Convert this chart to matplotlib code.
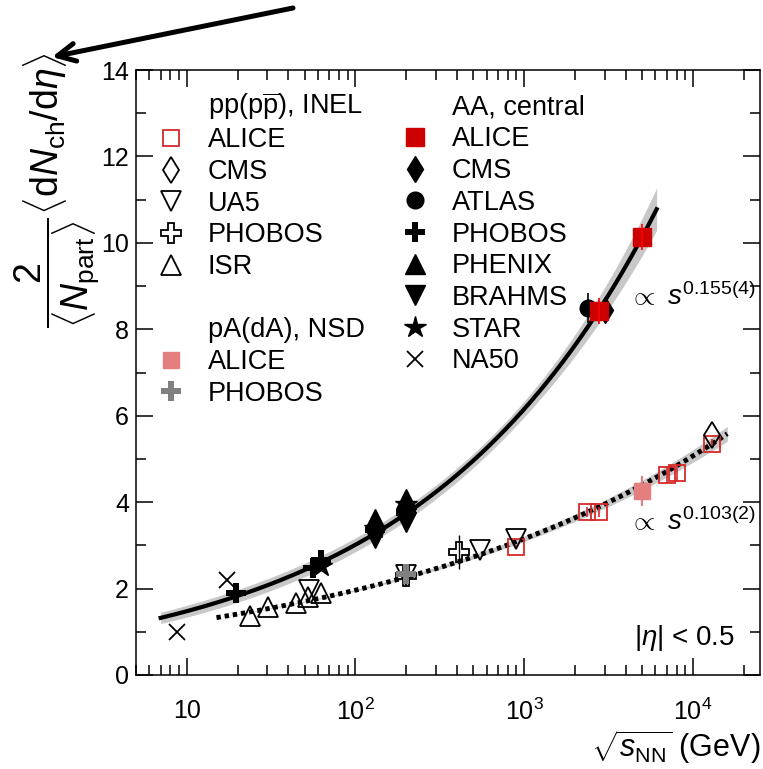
import numpy as np
import matplotlib
matplotlib.use('Agg')
import matplotlib.pyplot as plt
from matplotlib.lines import Line2D
from matplotlib.ticker import FixedLocator, FixedFormatter, LogLocator, MultipleLocator, NullFormatter

plt.rcParams['font.family'] = ['Liberation Sans', 'DejaVu Sans']
plt.rcParams['mathtext.fontset'] = 'custom'
plt.rcParams['mathtext.rm'] = 'Liberation Sans'
plt.rcParams['mathtext.it'] = 'Liberation Sans:italic'
plt.rcParams['mathtext.bf'] = 'Liberation Sans:bold'

# sqrt(s_NN) in GeV  vs  2/<Npart> <dNch/deta>
# pp(ppbar), INEL
alice_pp_x = [900, 2360, 2760, 7000, 8000, 13000]
alice_pp_y = [2.96, 3.77, 3.77, 4.63, 4.68, 5.35]
alice_pp_err = [0.05, 0.12, 0.12, 0.18, 0.18, 0.1]
cms_pp_x = [13000]
cms_pp_y = [5.56]
ua5_x = [53, 200, 546, 900]
ua5_y = [1.96, 2.31, 2.89, 3.15]
phobos_pp_x = [200, 410]
phobos_pp_y = [2.3, 2.85]
phobos_pp_err = [0.12, 0.4]
isr_x = [23.6, 30.4, 44.5, 52.6, 62.7]
isr_y = [1.37, 1.57, 1.67, 1.81, 1.90]

# pA(dA), NSD
alice_pa_x = [5020]
alice_pa_y = [4.26]
alice_pa_err = [0.35]
phobos_pa_x = [200]
phobos_pa_y = [2.33]
phobos_pa_err = [0.2]

# AA, central
alice_aa_x = [2760, 5020]
alice_aa_y = [8.43, 10.14]
alice_aa_err = [0.3, 0.3]
cms_aa_x = [3000]
cms_aa_y = [8.45]
atlas_x = [2400]
atlas_y = [8.5]
atlas_err = [0.35]
phobos_aa_x = [19.6, 56, 62.4, 130, 200]
phobos_aa_y = [1.9, 2.47, 2.65, 3.35, 3.75]
phenix_x = [130, 200]
phenix_y = [3.62, 4.08]
brahms_x = [130, 200]
brahms_y = [3.18, 3.55]
star_x = [62.4, 130, 200]
star_y = [2.52, 3.4, 3.95]
na50_x = [8.77, 17.3]
na50_y = [1.0, 2.2]

# power-law fits  ~ s^b  (b from the labels)
aa_fit_norm, aa_fit_exp, aa_fit_range = 0.723, 0.155, (7, 6100)
pp_fit_norm, pp_fit_exp, pp_fit_range = 0.76, 0.103, (15, 16000)

fig = plt.figure(figsize=(7.63, 7.69), dpi=100)
ax = fig.add_axes([136 / 763, 1 - 675 / 769, 624 / 763, 605 / 769])


def fit(norm, b, lo, hi):
    x = np.geomspace(lo, hi, 300)
    return x, norm * x ** (2 * b)


# AA fit + band
xa, ya = fit(aa_fit_norm, aa_fit_exp, *aa_fit_range)
rel = np.sqrt(0.03 ** 2 + (0.019 * np.log(xa / 1000)) ** 2)
ax.fill_between(xa, ya * (1 - rel), ya * (1 + rel), color='#c8c8c8', lw=0, zorder=1)
ax.plot(xa, ya, color='black', lw=3, zorder=2)

# pp fit + band
xp, yp = fit(pp_fit_norm, pp_fit_exp, *pp_fit_range)
relp = 0.004 * np.log(xp / pp_fit_range[0]) + 0.003
ax.fill_between(xp, yp * (1 - relp), yp * (1 + relp), color='#c8c8c8', lw=0, zorder=1)
ax.plot(xp, yp, color='black', lw=3.5, ls=(0, (0.9, 0.8)), zorder=2)

red = '#d42a2a'
dred = '#cc0000'
pink = '#e57f7f'
grey = '#808080'

# error bars
ax.errorbar(alice_pp_x, alice_pp_y, alice_pp_err, fmt='none', ecolor=red, elinewidth=1.2, zorder=3)
ax.errorbar(phobos_pp_x, phobos_pp_y, phobos_pp_err, fmt='none', ecolor='black', elinewidth=1.0, zorder=3)
ax.errorbar(alice_pa_x, alice_pa_y, alice_pa_err, fmt='none', ecolor=pink, elinewidth=1.5, zorder=3)
ax.errorbar(phobos_pa_x, phobos_pa_y, phobos_pa_err, fmt='none', ecolor=grey, elinewidth=1.5, zorder=3)
ax.errorbar(alice_aa_x, alice_aa_y, alice_aa_err, fmt='none', ecolor='red', elinewidth=1.2, zorder=6)
ax.errorbar(atlas_x, atlas_y, atlas_err, fmt='none', ecolor='black', elinewidth=1.2, zorder=3)

open_kw = dict(ls='none', mfc='none', mew=1.3)
h_alice_pp = ax.plot(alice_pp_x, alice_pp_y, marker='s', ms=12, mec=red, **open_kw, zorder=4)[0]
h_cms_pp = ax.plot(cms_pp_x, cms_pp_y, marker='d', ms=13, mec='black', **open_kw, zorder=4)[0]
h_ua5 = ax.plot(ua5_x, ua5_y, marker='v', ms=14, mec='black', **open_kw, zorder=4)[0]
h_phobos_pp = ax.plot(phobos_pp_x, phobos_pp_y, marker='P', ms=14, mec='black', **open_kw, zorder=4)[0]
h_isr = ax.plot(isr_x, isr_y, marker='^', ms=14, mec='black', **open_kw, zorder=4)[0]

h_alice_pa = ax.plot(alice_pa_x, alice_pa_y, ls='none', marker='s', ms=12, color=pink, zorder=4)[0]
h_phobos_pa = ax.plot(phobos_pa_x, phobos_pa_y, ls='none', marker='P', ms=14, color=grey, mew=0, zorder=4)[0]

h_atlas = ax.plot(atlas_x, atlas_y, ls='none', marker='o', ms=12, color='black', zorder=4)[0]
h_cms_aa = ax.plot(cms_aa_x, cms_aa_y, ls='none', marker='d', ms=13, color='black', zorder=4)[0]
h_phobos_aa = ax.plot(phobos_aa_x, phobos_aa_y, ls='none', marker='P', ms=14, color='black', mew=0, zorder=4)[0]
h_phenix = ax.plot(phenix_x, phenix_y, ls='none', marker='^', ms=14, color='black', zorder=4)[0]
h_brahms = ax.plot(brahms_x, brahms_y, ls='none', marker='v', ms=14, color='black', zorder=4)[0]
h_star = ax.plot(star_x, star_y, ls='none', marker='*', ms=16, color='black', zorder=4)[0]
h_na50 = ax.plot(na50_x, na50_y, ls='none', marker='x', ms=12, color='black', mew=1.3, zorder=4)[0]
h_alice_aa = ax.plot(alice_aa_x, alice_aa_y, ls='none', marker='s', ms=13, color=dred, zorder=5)[0]

# axes
ax.set_xscale('log')
ax.set_xlim(5, 25000)
ax.set_ylim(0, 14)
ax.xaxis.set_major_locator(FixedLocator([10, 100, 1000, 10000]))
ax.xaxis.set_major_formatter(FixedFormatter(['10', '$10^2$', '$10^3$', '$10^4$']))
ax.xaxis.set_minor_locator(LogLocator(base=10, subs=np.arange(2, 10)))
ax.xaxis.set_minor_formatter(NullFormatter())
ax.yaxis.set_major_locator(MultipleLocator(2))
ax.yaxis.set_minor_locator(MultipleLocator(1))
ax.tick_params(which='both', direction='in', top=True, right=True, width=1.1, labelsize=18)
ax.tick_params(which='major', length=12)
ax.tick_params(which='minor', length=7)
ax.tick_params(axis='x', which='major', pad=17)
ax.tick_params(axis='y', which='major', pad=5)
for sp in ax.spines.values():
    sp.set_linewidth(1.1)

# legends
blank = Line2D([], [], ls='none', marker=None)
leg_kw = dict(loc='upper left', frameon=False, fontsize=19.5, borderpad=0, borderaxespad=0,
              handlelength=1.0, handletextpad=0.85, labelspacing=0.21, numpoints=1)
leg1 = ax.legend([blank, h_alice_pp, h_cms_pp, h_ua5, h_phobos_pp, h_isr, blank, blank, h_alice_pa, h_phobos_pa],
                 [r'pp(p$\overline{\mathrm{p}}$), INEL', 'ALICE', 'CMS', 'UA5', 'PHOBOS', 'ISR', ' ',
                  'pA(dA), NSD', 'ALICE', 'PHOBOS'],
                 bbox_to_anchor=(0.0345, 0.967), **leg_kw)
ax.add_artist(leg1)
ax.legend([blank, h_alice_aa, h_cms_aa, h_atlas, h_phobos_aa, h_phenix, h_brahms, h_star, h_na50],
          ['AA, central', 'ALICE', 'CMS', 'ATLAS', 'PHOBOS', 'PHENIX', 'BRAHMS', 'STAR', 'NA50'],
          bbox_to_anchor=(0.4255, 0.959), **leg_kw)

# annotations
ax.text(0.79, 0.612, r'$\propto\ s^{0.155(4)}$', transform=ax.transAxes, fontsize=20, va='baseline')
ax.text(0.79, 0.24, r'$\propto\ s^{0.103(2)}$', transform=ax.transAxes, fontsize=20, va='baseline')
ax.text(0.96, 0.05, r'$|\eta|$ < 0.5', transform=ax.transAxes, fontsize=20, va='baseline', ha='right')

ax.set_xlabel(r'$\sqrt{s_{\mathrm{NN}}}$ (GeV)', fontsize=22, loc='right', labelpad=2)
fig.text(57 / 763, 1 - 52 / 769,
         r'$\dfrac{2}{\langle N_{\mathrm{part}}\rangle}\langle\mathrm{d}N_{\mathrm{ch}}/\mathrm{d}\eta\rangle$',
         rotation=90, fontsize=27, ha='center', va='top')

# arrow from the slide
ax.annotate('', xy=(52, 769 - 57), xytext=(293, 769 - 8), xycoords='figure pixels',
            textcoords='figure pixels',
            arrowprops=dict(arrowstyle='->', lw=3.6, color='black', mutation_scale=32,
                            shrinkA=0, shrinkB=0))

fig.savefig('out.png', dpi=100)
